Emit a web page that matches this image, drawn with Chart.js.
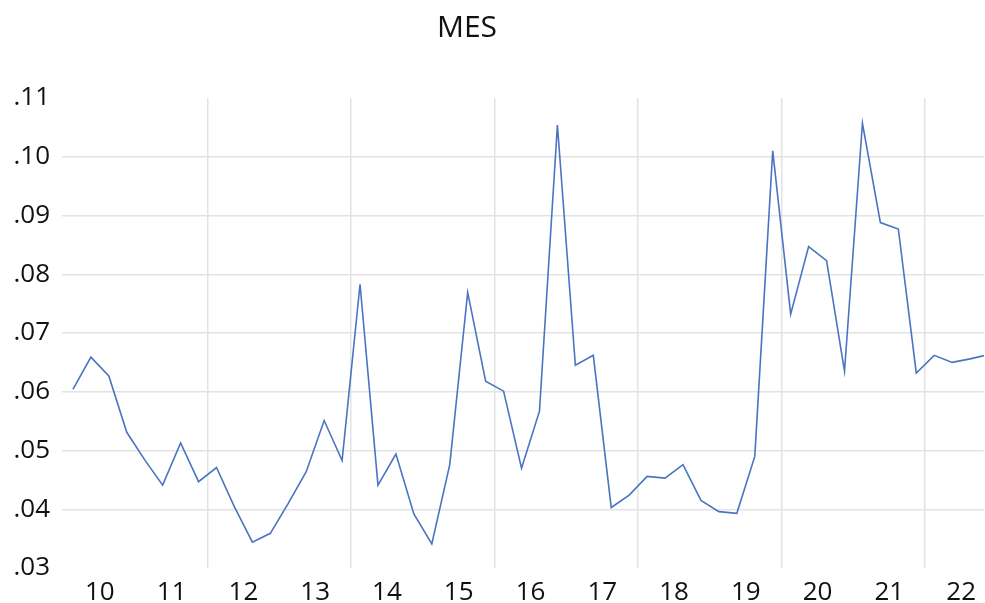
<!DOCTYPE html>
<html>
<head>
<meta charset="utf-8">
<script src="https://cdn.jsdelivr.net/npm/chart.js@4"></script>
<style>
  html, body { margin: 0; padding: 0; background: #fff; overflow: hidden; }
  canvas { display: block; }
</style>
</head>
<body>
<canvas id="mesChart" width="985" height="612"></canvas>
<script>
// quarterly series, 2010Q1 .. 2022Q4
const years = ['10', '11', '12', '13', '14', '15', '16', '17', '18', '19', '20', '21', '22'];
const mes = [
  0.0604, 0.0659, 0.0627, 0.0531,
  0.0484, 0.0441, 0.0513, 0.0447,
  0.0471, 0.0404, 0.0344, 0.0359,
  0.0410, 0.0464, 0.0551, 0.0483,
  0.0783, 0.0441, 0.0494, 0.0392,
  0.0341, 0.0476, 0.0769, 0.0618,
  0.0601, 0.0470, 0.0567, 0.1054,
  0.0645, 0.0662, 0.0403, 0.0424,
  0.0456, 0.0453, 0.0476, 0.0415,
  0.0396, 0.0393, 0.0490, 0.1010,
  0.0732, 0.0847, 0.0823, 0.0635,
  0.1057, 0.0888, 0.0877, 0.0632,
  0.0662, 0.0650, 0.0656, 0.0663
];
const yTicks = [0.03, 0.04, 0.05, 0.06, 0.07, 0.08, 0.09, 0.10, 0.11];

const font = "'Open Sans', 'Noto Sans', sans-serif";
const points = mes.map((v, i) => ({ x: i, y: v }));

// year labels sit mid-year, grid lines every second year boundary
const labelTicks = years.map((y, k) => 1.5 + 4 * k);
const gridTicks = years.slice(0, 12).map((y, k) => 3.5 + 4 * k).filter((v, k) => k % 2 === 1);
const isGrid = v => gridTicks.some(g => Math.abs(g - v) < 1e-6);

const titlePlugin = {
  id: 'mesTitle',
  afterDraw(chart) {
    const c = chart.ctx;
    c.save();
    c.font = '30px ' + font;
    c.fillStyle = '#111';
    c.textAlign = 'center';
    c.textBaseline = 'middle';
    c.fillText('MES', 467, 28);
    c.restore();
  }
};

new Chart(document.getElementById('mesChart'), {
  type: 'line',
  data: {
    datasets: [{
      label: 'MES',
      data: points,
      borderColor: '#4a74c2',
      borderWidth: 1.6,
      pointRadius: 0,
      tension: 0,
      fill: false
    }]
  },
  options: {
    responsive: false,
    animation: false,
    devicePixelRatio: 1,
    layout: { padding: { top: 98, left: 0, right: 0, bottom: 0 } },
    plugins: {
      legend: { display: false },
      tooltip: { enabled: false },
      title: { display: false }
    },
    scales: {
      x: {
        type: 'linear',
        min: -0.61,
        max: 50.77,
        border: { display: false },
        grid: {
          drawTicks: false,
          lineWidth: 1.5,
          color: ctx => (ctx.tick && isGrid(ctx.tick.value)) ? '#e3e3e3' : 'rgba(0,0,0,0)'
        },
        afterBuildTicks: scale => {
          scale.ticks = labelTicks.concat(gridTicks).sort((a, b) => a - b).map(v => ({ value: v }));
        },
        afterFit: scale => { scale.height = 612 - 568; },
        ticks: {
          autoSkip: false,
          maxRotation: 0,
          padding: 9,
          color: '#111',
          font: { family: font, size: 26 },
          callback: v => {
            const k = labelTicks.findIndex(t => Math.abs(t - v) < 1e-6);
            return k >= 0 ? years[k] : '';
          }
        }
      },
      y: {
        min: 0.03,
        max: 0.11,
        border: { display: false },
        afterBuildTicks: scale => { scale.ticks = yTicks.map(v => ({ value: v })); },
        afterFit: scale => { scale.width = 62; },
        grid: {
          drawTicks: false,
          lineWidth: 1.5,
          color: ctx => (ctx.tick && (ctx.tick.value < 0.0301 || ctx.tick.value > 0.1099)) ? 'rgba(0,0,0,0)' : '#e3e3e3'
        },
        ticks: {
          padding: 12,
          color: '#111',
          font: { family: font, size: 26 },
          callback: v => v.toFixed(2).replace(/^0/, '')
        }
      }
    }
  },
  plugins: [titlePlugin]
});
</script>
</body>
</html>
